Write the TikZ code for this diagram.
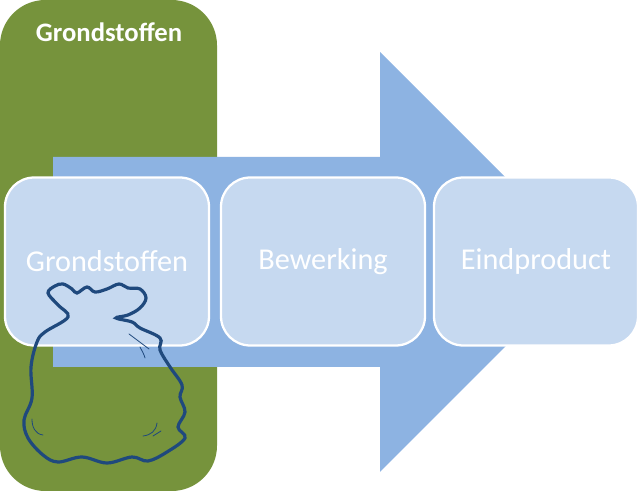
\documentclass[tikz,border=0pt]{standalone}
\usepackage{fontspec}
\setmainfont{Carlito}
\definecolor{grasgroen}{RGB}{118,147,60}
\definecolor{pijlblauw}{RGB}{141,179,226}
\definecolor{vakblauw}{RGB}{198,217,240}
\definecolor{zakblauw}{RGB}{31,73,125}
\tikzset{
  stapvak/.style={draw=white,line width=1.7pt,fill=vakblauw,rounded corners=22pt,minimum width=153pt,minimum height=126pt,text=white,font=\fontsize{22.7}{27}\selectfont},
  zaklijn/.style={draw=zakblauw,line width=0.6pt,line cap=round}
}
\begin{document}
\begin{tikzpicture}[x=0.75pt,y=0.75pt,yscale=-1,xscale=1]
\useasboundingbox (0,0) rectangle (640,491);

%Shape: Rounded Rectangle [green column]
\fill [grasgroen,rounded corners=34pt] (0,0) rectangle (217,491);
%Shape: Right Arrow
\fill [pijlblauw] (53,157) -- (380,157) -- (380,52) -- (590,262) -- (380,472) -- (380,367) -- (53,367) -- cycle;

% Text Node
\node [text=white,font=\bfseries\fontsize{20}{24}\selectfont] (kop) at (109,32) {Grondstoffen};
% Boxes
\node [stapvak] (grondstoffen) at (107,261.5) {Grondstoffen};
\node [stapvak] (bewerking) at (323,261.5) {Bewerking};
\node [stapvak] (eindproduct) at (536,261.5) {Eindproduct};

%Shape: Bag
\draw [draw=zakblauw,line width=2.4pt] plot [smooth cycle,tension=0.6] coordinates {(48,293) (55,286) (63,284) (72,289) (77,293) (87,287) (95,292) (107,289) (119,284) (128,288) (140,289) (146,298) (140,308) (128,315) (116,318) (132,322) (140,328) (160,338) (160,350) (170,367) (182,385) (180,397) (185,412) (178,427) (185,438) (167,452) (148,461) (132,457) (107,463) (82,457) (58,462) (43,455) (28,438) (24,420) (32,398) (31,367) (37,342) (45,332) (68,317) (58,305)};
%Bag folds
\draw [zaklijn] (129,334) -- (149,349);
\draw [zaklijn] (140,347) .. controls (142,351) and (144,354) .. (145,358);
\draw [zaklijn] (32,419) .. controls (32,427) and (35,434) .. (43,435);
\draw [zaklijn] (157,423) .. controls (156,431) and (151,435) .. (143,436);
\draw [zaklijn] (161,431) -- (153,436);
\end{tikzpicture}
\end{document}
